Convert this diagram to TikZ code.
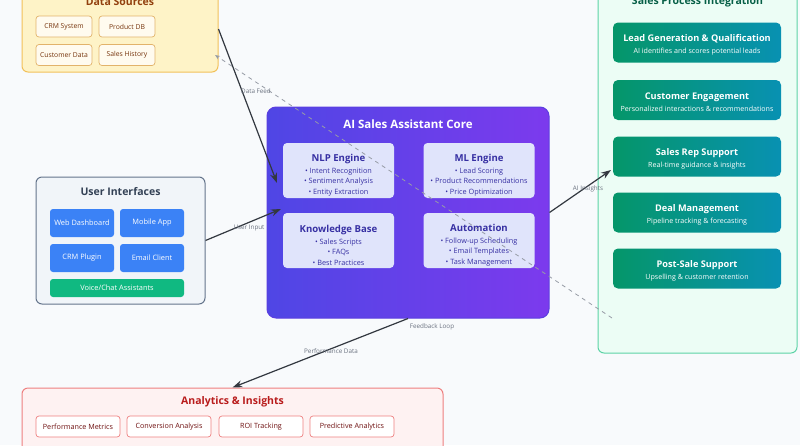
\documentclass[tikz,border=0pt]{standalone}
\usepackage{fontspec}
\setmainfont{Open Sans}
\usetikzlibrary{arrows.meta}

\definecolor{pagebg}{HTML}{F8FAFC}
\definecolor{dsfill}{HTML}{FEF3C7}
\definecolor{dsline}{HTML}{F2C15A}
\definecolor{dsinner}{HTML}{FFFBEF}
\definecolor{dsinline}{HTML}{E2B36A}
\definecolor{dstext}{HTML}{92400E}
\definecolor{uifill}{HTML}{F1F5F9}
\definecolor{uiline}{HTML}{64748B}
\definecolor{uitext}{HTML}{334155}
\definecolor{uiblue}{HTML}{3B82F6}
\definecolor{uigreen}{HTML}{10B981}
\definecolor{coreleft}{HTML}{4F46E5}
\definecolor{coreright}{HTML}{7C3AED}
\definecolor{coreline}{HTML}{5B3FE0}
\definecolor{corebox}{HTML}{E0E4FB}
\definecolor{coretext}{HTML}{3730A3}
\definecolor{spfill}{HTML}{ECFDF5}
\definecolor{spline}{HTML}{5DD3A6}
\definecolor{sptext}{HTML}{065F46}
\definecolor{spleft}{HTML}{059669}
\definecolor{spright}{HTML}{0891B2}
\definecolor{anfill}{HTML}{FEF2F2}
\definecolor{anline}{HTML}{EE8080}
\definecolor{antext}{HTML}{B91C1C}
\definecolor{arrowgray}{HTML}{333840}
\definecolor{labelgray}{HTML}{6B7280}

\tikzset{
  container/.style={draw, line width=1pt, rounded corners=6pt, inner sep=0pt},
  heading/.style={font=\fontsize{10.5}{12}\selectfont\bfseries},
  dsitem/.style={draw=dsinline, fill=dsinner, rounded corners=3pt, line width=0.7pt,
    minimum width=56pt, minimum height=21pt, inner sep=0pt, text=dstext!80!black,
    font=\fontsize{6.8}{8}\selectfont},
  uibtn/.style={fill=uiblue, rounded corners=3pt, minimum width=64pt, minimum height=28pt,
    inner sep=0pt, text=white, font=\fontsize{7.4}{9}\selectfont},
  corecard/.style={fill=corebox, rounded corners=4pt, minimum width=111pt, minimum height=55pt,
    inner sep=0pt, align=center, text=coretext, font=\fontsize{7.3}{10.6}\selectfont},
  spcard/.style={left color=spleft, right color=spright, rounded corners=5pt, minimum width=168pt,
    minimum height=40pt, inner sep=0pt, align=center, text=white, font=\fontsize{7.1}{9}\selectfont},
  anitem/.style={draw=anline, fill=white, rounded corners=3pt, line width=0.7pt,
    minimum width=84pt, minimum height=21pt, inner sep=0pt, text=antext!60!black,
    font=\fontsize{7.2}{8}\selectfont},
  flow/.style={draw=arrowgray, line width=1.2pt, -{Stealth[length=10pt,width=7pt]}},
  loop/.style={draw=labelgray!70, line width=0.8pt, dash pattern=on 4pt off 4pt,
    -{Stealth[length=5pt,width=4pt]}},
  flowlabel/.style={text=labelgray, font=\fontsize{6.3}{7}\selectfont, inner sep=0pt}
}

\begin{document}
\begin{tikzpicture}[x=1pt,y=-1pt]
\clip (0,0) rectangle (800,445);
\fill[pagebg] (0,0) rectangle (800,445);

% data sources
\node[container, draw=dsline, fill=dsfill, minimum width=196pt, minimum height=86pt] (ds) at (120,29) {};
\node[heading, text=dstext] (dstitle) at (120,2) {Data Sources};
\node[dsitem] (crm) at (64,26.5) {CRM System};
\node[dsitem] (pdb) at (127,26.5) {Product DB};
\node[dsitem] (cdata) at (64,55) {Customer Data};
\node[dsitem] (hist) at (127,55) {Sales History};

% user interfaces
\node[container, draw=uiline, fill=uifill, minimum width=169pt, minimum height=127pt] (ui) at (120.5,240.5) {};
\node[heading, text=uitext] (uititle) at (120.5,192) {User Interfaces};
\node[uibtn] (web) at (82,223) {Web Dashboard};
\node[uibtn] (mobile) at (152,223) {Mobile App};
\node[uibtn] (plugin) at (82,258) {CRM Plugin};
\node[uibtn] (email) at (152,258) {Email Client};
\node[uibtn, fill=uigreen, minimum width=134pt, minimum height=18pt] (voice) at (117,288) {Voice/Chat Assistants};

% core
\node[container, draw=coreline, left color=coreleft, right color=coreright, rounded corners=9pt,
  minimum width=282pt, minimum height=211pt] (core) at (408,212.5) {};
\node[heading, text=white, font=\fontsize{11.5}{13}\selectfont\bfseries] (coretitle) at (408,124) {AI Sales Assistant Core};
\node[corecard] (nlp) at (338.5,170.5) {{\rule{0pt}{17pt}\fontsize{9.6}{11}\selectfont\bfseries NLP Engine}\\[1pt] • Intent Recognition\\ • Sentiment Analysis\\ • Entity Extraction};
\node[corecard] (ml) at (479,170.5) {{\rule{0pt}{17pt}\fontsize{9.6}{11}\selectfont\bfseries ML Engine}\\[1pt] • Lead Scoring\\ • Product Recommendations\\ • Price Optimization};
\node[corecard] (kb) at (338.5,240.5) {{\rule{0pt}{17pt}\fontsize{9.6}{11}\selectfont\bfseries Knowledge Base}\\[1pt] • Sales Scripts\\ • FAQs\\ • Best Practices};
\node[corecard] (auto) at (479,240.5) {{\rule{0pt}{17pt}\fontsize{9.6}{11}\selectfont\bfseries Automation}\\[1pt] • Follow-up Scheduling\\ • Email Templates\\ • Task Management};

% sales process integration
\node[container, draw=spline, fill=spfill, minimum width=199pt, minimum height=368pt] (sp) at (697.5,169) {};
\node[heading, text=sptext] (sptitle) at (697.5,2) {Sales Process Integration};
\foreach \name/\y/\head/\sub in {
    lead/42.5/Lead Generation \& Qualification/AI identifies and scores potential leads,
    engage/100/Customer Engagement/Personalized interactions \& recommendations,
    rep/156.5/Sales Rep Support/Real-time guidance \& insights,
    deal/212.5/Deal Management/Pipeline tracking \& forecasting,
    post/268.5/Post-Sale Support/Upselling \& customer retention}
  \node[spcard] (\name) at (697,\y) {{\rule{0pt}{12pt}\fontsize{9.2}{11}\selectfont\bfseries \head}\\[3pt] \sub};

% analytics
\node[container, draw=anline, fill=anfill, minimum width=421pt, minimum height=90pt] (an) at (232.5,433) {};
\node[heading, text=antext] (antitle) at (232.5,402) {Analytics \& Insights};
\foreach \name/\x/\txt in {perf/78/Performance Metrics, conv/169/Conversion Analysis,
    roi/261/ROI Tracking, pred/352/Predictive Analytics}
  \node[anitem] (\name) at (\x,426.5) {\txt};

% connectors
\coordinate (feedtip) at (277,183);
\coordinate (inputtip) at (281,209);
\coordinate (insighttip) at (611,170);
\coordinate (loopstart) at (612,318);
\coordinate (looptip) at (215,55);
\draw[loop] (loopstart) -- (looptip);
\draw[flow] (ds.east) -- (feedtip);
\draw[flow] (ui.east) -- (inputtip);
\draw[flow] (core.east) -- (insighttip);
\draw[flow] (core.south) -- (an.north);

\node[flowlabel] (feedlbl) at (256,91) {Data Feed};
\node[flowlabel] (inputlbl) at (249,228) {User Input};
\node[flowlabel] (insightlbl) at (588,189) {AI Insights};
\node[flowlabel] (looplbl) at (432,327) {Feedback Loop};
\node[flowlabel] (perflbl) at (331,351) {Performance Data};
\end{tikzpicture}
\end{document}
